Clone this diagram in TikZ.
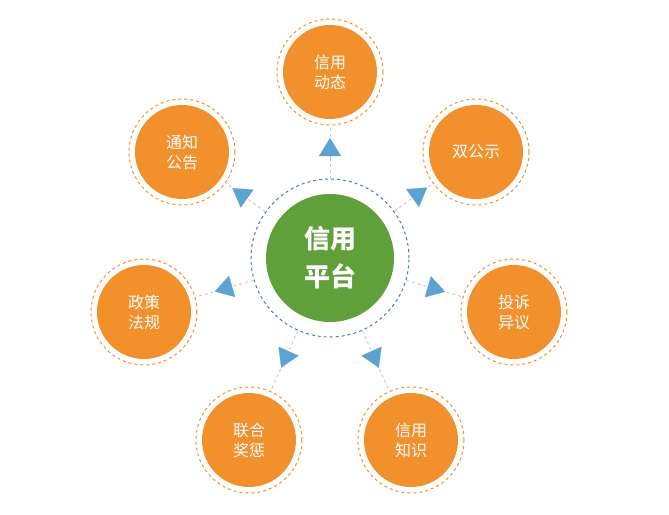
\documentclass[tikz,border=0pt]{standalone}
\usepackage{fontspec}
\setmainfont{Noto Sans CJK SC}
\usetikzlibrary{arrows.meta,calc}
\definecolor{org}{HTML}{F2902C}
\definecolor{grn}{HTML}{5FA03B}
\definecolor{bdash}{HTML}{4F79B8}
\definecolor{arr}{HTML}{5AA3D2}
\tikzset{
  sat/.style={circle,fill=org,minimum size=94pt,inner sep=0pt,text=white,font=\fontsize{16}{20}\selectfont,align=center},
  satring/.style={circle,draw=org,dashed,line width=1pt,minimum size=106pt,inner sep=0pt},
  link/.style={draw=black!20,dashed,line width=1pt},
  tip/.style={arr,line width=0.1pt,-{Triangle[length=18pt,width=22pt]}}
}
\begin{document}
\begin{tikzpicture}[x=1pt,y=-1pt]
\useasboundingbox (0,0) rectangle (669,514);
\coordinate (c) at (330,258);
\node[circle,fill=grn,minimum size=128pt,inner sep=0pt,text=white,font=\fontsize{26}{38}\selectfont\bfseries,align=center] (center) at (c) {信用\\平台};
\node[circle,draw=bdash,dashed,line width=1pt,minimum size=158pt,inner sep=0pt] (cring) at (c) {};
\foreach \n/\p/\t in {s1/{330,72}/{信用\\动态}, s2/{476,152}/{双公示}, s3/{514,312}/{投诉\\异议}, s4/{411,440}/{信用\\知识}, s5/{249,440}/{联合\\奖惩}, s6/{144,312}/{政策\\法规}, s7/{182,152}/{通知\\公告}}{
  \node[sat] (\n) at (\p) {\t};
  \node[satring] (\n r) at (\p) {};
  \draw[link] (cring) -- (\n r);
  \draw[tip] ($(c)!102pt!(\n)$) -- ($(c)!120pt!(\n)$);
}
\end{tikzpicture}
\end{document}
